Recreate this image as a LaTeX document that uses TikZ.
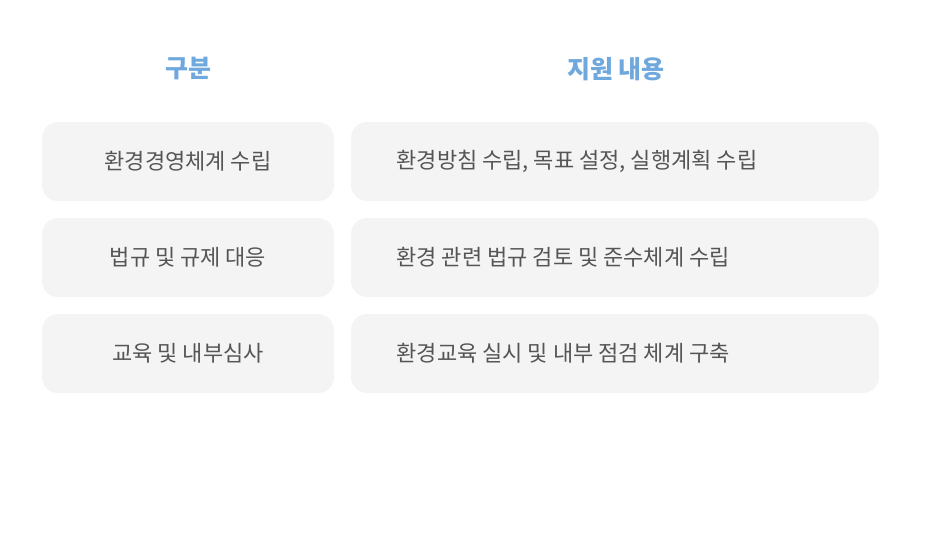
\documentclass[tikz,border=0pt]{standalone}
\usepackage{fontspec}
\setmainfont{Noto Sans CJK KR}
\definecolor{kopf}{HTML}{6FA8DC}
\definecolor{boks}{HTML}{F4F4F4}
\definecolor{tekst}{HTML}{555555}
\tikzset{
  kasse/.style={fill=boks,rounded corners=16pt,draw=none},
  overskrift/.style={text=kopf,font=\fontsize{25}{28}\selectfont\bfseries},
  punkt/.style={text=tekst,font=\fontsize{22}{26}\selectfont}
}
\begin{document}
\begin{tikzpicture}[x=1pt,y=-1pt]
  %ramme
  	\useasboundingbox (0,0) rectangle (942,542);
  %overskrifter
  	\node[overskrift] (hvenstre) at (188,69) {구분};
  	\node[overskrift] (hhojre) at (616,69) {지원 내용};

  %raekke 1
	\fill[kasse] (42,122) rectangle (334,201);
	\fill[kasse] (351,122) rectangle (879,201);
	\node[punkt] (v1) at (188,161.5) {환경경영체계 수립};
	\node[punkt,anchor=west] (h1) at (393,161.5) {환경방침 수립, 목표 설정, 실행계획 수립};

  %raekke 2
	\fill[kasse] (42,218) rectangle (334,297);
	\fill[kasse] (351,218) rectangle (879,297);
	\node[punkt] (v2) at (188,257.5) {법규 및 규제 대응};
	\node[punkt,anchor=west] (h2) at (393,257.5) {환경 관련 법규 검토 및 준수체계 수립};

  %raekke 3
	\fill[kasse] (42,314) rectangle (334,393);
	\fill[kasse] (351,314) rectangle (879,393);
	\node[punkt] (v3) at (188,353.5) {교육 및 내부심사};
	\node[punkt,anchor=west] (h3) at (393,353.5) {환경교육 실시 및 내부 점검 체계 구축};
\end{tikzpicture}
\end{document}
